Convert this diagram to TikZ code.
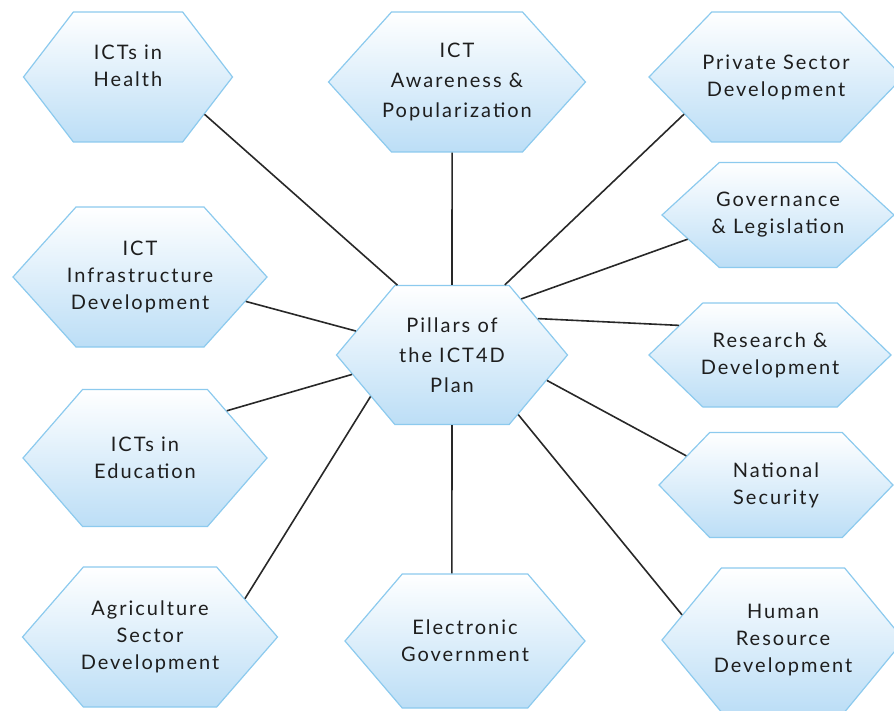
\documentclass[tikz,border=0pt]{standalone}
\usepackage{fontspec}
\setmainfont[LetterSpace=10]{Lato}
\usetikzlibrary{shapes.symbols, positioning}

\definecolor{hexline}{RGB}{140,202,238}
\definecolor{hexfill}{RGB}{188,222,246}
\definecolor{spokegray}{RGB}{40,40,40}
\definecolor{hextext}{RGB}{30,30,30}

\tikzset{
    pillar/.style n args={3}{shape=signal, signal to=west and east,
        draw=hexline, line width=1.2pt, top color=white, bottom color=hexfill,
        minimum width=#1, minimum height=#2, signal pointer angle=#3,
        inner xsep=-60pt, inner ysep=0pt, align=center, text=hextext,
        font=\fontsize{20}{27}\selectfont},
    spoke/.style={draw=spokegray, line width=1.6pt}
}

\begin{document}
\begin{tikzpicture}[x=1pt, y=-1pt]
    \useasboundingbox (0,0) rectangle (894,711);
    % hub
    \node[pillar={231pt}{139pt}{100}, font=\fontsize{20}{30}\selectfont] (plan) at (452,355) {Pillars of\\the ICT4D\\Plan};
    % pillars
    \node[pillar={209pt}{130pt}{105}, text depth=22pt] (health) at (128,77) {ICTs in\\Health};
    \node[pillar={257pt}{140pt}{96}, font=\fontsize{20}{30}\selectfont] (aware) at (457,82) {ICT\\Awareness \&\\Popularization};
    \node[pillar={254pt}{130pt}{92}] (private) at (776,77) {Private Sector\\Development};
    \node[pillar={254pt}{140pt}{96}] (infra) at (140,277) {ICT\\Infrastructure\\Development};
    \node[pillar={232pt}{105pt}{85}] (gov) at (778,215) {Governance\\\& Legislation};
    \node[pillar={242pt}{104pt}{88}] (research) at (770,355) {Research \&\\Development};
    \node[pillar={244pt}{137pt}{98}] (edu) at (145,458) {ICTs in\\Education};
    \node[pillar={234pt}{105pt}{92}] (natsec) at (776,485) {National\\Security};
    \node[pillar={255pt}{140pt}{98}] (agri) at (150,637) {Agriculture\\Sector\\Development};
    \node[pillar={240pt}{134pt}{99}] (egov) at (465,641) {Electronic\\Government};
    \node[pillar={242pt}{144pt}{101}] (human) at (783,640) {Human\\Resource\\Development};
    % spokes
    \draw[spoke] (plan.128) -- (health.-26.6);
    \draw[spoke] (plan.90) -- (aware.-94);
    \draw[spoke] (plan.53) -- (private.202);
    \draw[spoke] (plan.39) -- (gov.195);
    \draw[spoke] (plan.23) -- (research.162);
    \draw[spoke] (plan.-15) -- (natsec.162);
    \draw[spoke] (plan.-42) -- (human.166);
    \draw[spoke] (plan.-90) -- (egov.101);
    \draw[spoke] (plan.207) -- (agri.22);
    \draw[spoke] (plan.191) -- (edu.30);
    \draw[spoke] (plan.166) -- (infra.-13);
\end{tikzpicture}
\end{document}
